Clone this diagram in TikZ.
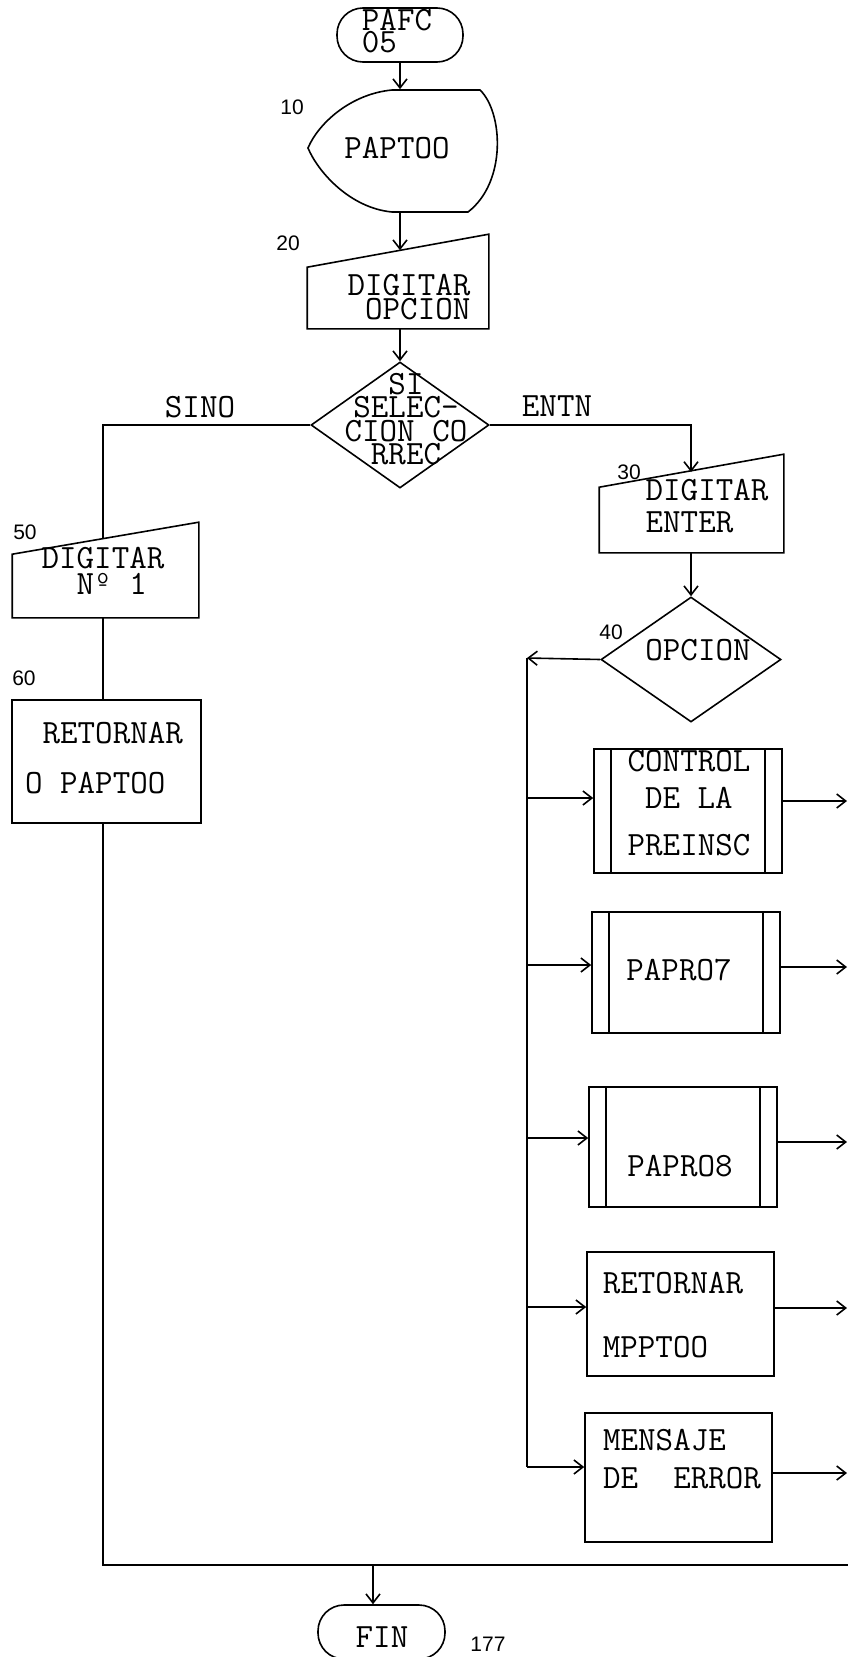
\documentclass[tikz,border=0pt]{standalone}
\usepackage{fontspec}
\setsansfont{Liberation Sans}
\usetikzlibrary{shapes.geometric,arrows.meta,positioning,calc}

\begin{document}
\begin{tikzpicture}[x=1pt, y=-1pt, line width=1.6pt,
  >={Straight Barb[length=9pt,width=14pt]},
  txt/.style={font=\ttfamily\fontsize{34}{21}\selectfont, inner sep=0pt},
  num/.style={font=\sffamily\fontsize{21}{21}\selectfont, inner sep=0pt},
  term/.style={draw, rounded corners=26pt, minimum width=126pt, minimum height=54pt, inner sep=0pt},
  shp/.style={inner sep=0pt},
  sub/.style={draw, inner sep=0pt, minimum width=188pt},
  dec/.style={draw, diamond, inner sep=0pt, minimum width=178pt, minimum height=126pt}]
  \useasboundingbox (0,0) rectangle (848,1657);

  % Start terminal
  \node[term] (start) at (400,35) {};
  \node[txt, align=left] (startT) at (397,31) {PAFC\\05};

  % 10: display PAPTOO
  \node[num] (n10) at (292,107) {10};
  \node[shp, minimum width=188pt, minimum height=122pt] (paptoo) at (400,151) {};
  \draw (392,90) -- (480,90) .. controls (503,112) and (507,182) .. (468,212) -- (392,212)
        .. controls (350,208) and (318,172) .. (308,148) .. controls (318,124) and (350,94) .. (392,90);
  \node[txt] (paptooT) at (397,148) {PAPTOO};
  \draw[->] (start.south) -- (paptoo.north);

  % 20: manual input
  \node[num] (n20) at (288,243) {20};
  \node[shp, minimum width=180pt, minimum height=93pt] (in20) at (398,281.5) {};
  \draw (in20.south west) -- (in20.south east) -- (in20.north east) -- ([yshift=-33pt]in20.north west) -- cycle;
  \node[txt, align=right] (in20T) at (409,297) {DIGITAR\\[2pt]OPCION};
  \draw[->] (paptoo.south) -- ([yshift=-16pt]in20.north -| paptoo.south);

  % decision
  \node[dec] (sel) at (400,425) {};
  \node[txt, align=center] (selT) at (406,419) {SI\\[1pt]SELEC-\\[1pt]CION CO\\[1pt]RREC};
  \draw[->] (in20.south -| sel.north) -- (sel.north);

  % SINO branch
  \node[txt] (sino) at (200,407) {SINO};
  \coordinate (c50) at (103,539);
  \draw (sel.west) -| (c50);

  % 50: manual input
  \node[num] (n50) at (25,532) {50};
  \node[shp, minimum width=185pt, minimum height=94pt] (in50) at (105.5,570) {};
  \draw (in50.south west) -- (in50.south east) -- (in50.north east) -- ([yshift=-32pt]in50.north west) -- cycle;
  \node[txt, align=left] (in50T) at (103,571) {DIGITAR\\[4pt]\ \ Nº 1};

  % 60: return
  \node[num] (n60) at (24,678) {60};
  \node[draw, shp, minimum width=189pt, minimum height=123pt] (ret60) at (106.5,761.5) {};
  \node[txt, align=left] (ret60T) at (104,758) {\ RETORNAR\\[27pt]O PAPTOO};
  \draw (in50.south -| c50) -- (ret60.north -| c50);

  % bottom join and end
  \coordinate (join) at (373,1565);
  \draw (ret60.south -| c50) |- (848,1565);
  \node[term, minimum width=127pt] (fin) at (381.5,1632) {};
  \node[txt] (finT) at (382,1637) {FIN};
  \draw[->] (join) -- (join |- fin.north);
  \node[num, anchor=base] (pg) at (488,1651) {177};

  % ENTN branch
  \node[txt] (entn) at (557,406) {ENTN};
  \coordinate (c30) at (691,472);
  \draw[->] (sel.east) -| (c30);

  % 30: manual input
  \node[num] (n30) at (629,472) {30};
  \node[shp, minimum width=183pt, minimum height=97pt] (in30) at (691.5,503.5) {};
  \draw (in30.south west) -- (in30.south east) -- (in30.north east) -- ([yshift=-33pt]in30.north west) -- cycle;
  \node[txt, align=left] (in30T) at (707,506) {DIGITAR\\[9pt]ENTER};

  % 40: option
  \node[dec, minimum width=180pt, minimum height=125pt] (opc) at (691,659.5) {};
  \node[num] (n40) at (611,632) {40};
  \node[txt] (opcT) at (698,650) {OPCION};
  \draw[->] (in30.south -| opc.north) -- (opc.north);

  % option bus
  \coordinate (bus) at (527,658);
  \coordinate (rim) at (847,0);
  \draw[->] (opc.west) -- (bus);
  \draw (bus) -- (bus |- 0,1467);

  % cases
  \node[sub, minimum height=124pt] (ctl) at (688,811) {};
  \node[sub, minimum height=121pt] (p7) at (686,972.5) {};
  \node[sub, minimum height=120pt] (p8) at (683,1147) {};
  \node[sub, minimum width=187pt, minimum height=124pt] (ret) at (680.5,1314) {};
  \node[sub, minimum width=187pt, minimum height=129pt] (msg) at (678.5,1477.5) {};
  \foreach \b in {ctl,p7,p8}{
    \draw ([xshift=18pt]\b.north west) -- ([xshift=18pt]\b.south west);
    \draw ([xshift=-18pt]\b.north east) -- ([xshift=-18pt]\b.south east);
  }
  \node[txt, align=center] (ctlT) at (689,803) {CONTROL\\[14pt]DE LA\\[25pt]PREINSC};
  \node[txt] (p7T) at (679,970) {PAPRO7};
  \node[txt] (p8T) at (680,1166) {PAPRO8};
  \node[txt, align=left] (retT) at (673,1315) {RETORNAR\\[41pt]MPPTOO};
  \node[txt, align=left] (msgT) at (682,1459) {MENSAJE\\[15pt]DE\ \ ERROR};

  \foreach \b/\yi/\yo in {ctl/798/801, p7/965/967, p8/1138/1142, ret/1307/1308, msg/1467/1473}{
    \draw[->] (bus |- 0,\yi) -- (\b.west |- 0,\yi);
    \draw[->] (\b.east |- 0,\yo) -- (rim |- 0,\yo);
  }
\end{tikzpicture}
\end{document}
